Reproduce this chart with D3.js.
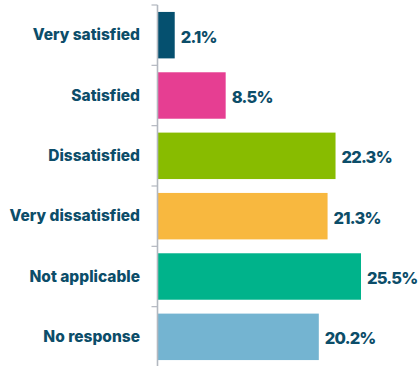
<!DOCTYPE html>
<html>
<head>
<meta charset="utf-8">
<script src="https://cdn.jsdelivr.net/npm/d3@7"></script>
<style>
  html, body { margin: 0; padding: 0; background: #ffffff; }
  svg { display: block; }
  text { font-family: "Inter", "Noto Sans", sans-serif; font-weight: 800; fill: #0c4d69; }
</style>
</head>
<body>
<svg id="chart" width="420" height="366"></svg>
<script>
// Survey responses, share of all respondents (%)
const categories = ["Very satisfied", "Satisfied", "Dissatisfied", "Very dissatisfied", "Not applicable", "No response"];
const shares = [2.1, 8.5, 22.3, 21.3, 25.5, 20.2];
const barColors = ["#05506f", "#e63e92", "#88bc00", "#f8b83f", "#00b38b", "#74b4d1"];

const svg = d3.select("#chart");
const axisX = 157.5;

const x = d3.scaleLinear().domain([0, 25.5]).range([158, 361]);
const y = d3.scaleBand().domain(categories).range([5, 367]).paddingInner(0).paddingOuter(0);
const inset = y.step() * 0.115;

// Bars
svg.append("g").selectAll("rect")
  .data(categories)
  .join("rect")
  .attr("x", x(0))
  .attr("y", d => y(d) + inset)
  .attr("width", (d, i) => x(shares[i]) - x(0))
  .attr("height", y.step() - 2 * inset)
  .attr("fill", (d, i) => barColors[i]);

// Category axis: vertical rule with ticks between rows
const axis = svg.append("g");
axis.append("line")
  .attr("x1", axisX).attr("x2", axisX)
  .attr("y1", y.range()[0]).attr("y2", y.range()[1])
  .attr("stroke", "#b3b8c0").attr("stroke-width", 1.6);
axis.selectAll("line.tick")
  .data(categories.map(d => y(d)).concat([y.range()[1]]))
  .join("line")
  .attr("class", "tick")
  .attr("x1", axisX - 6).attr("x2", axisX)
  .attr("y1", d => d).attr("y2", d => d)
  .attr("stroke", "#b3b8c0").attr("stroke-width", 1.2);

// Category labels
svg.append("g").selectAll("text")
  .data(categories)
  .join("text")
  .attr("x", 140)
  .attr("y", d => y(d) + y.step() / 2)
  .attr("dy", "0.33em")
  .attr("text-anchor", "end")
  .attr("font-size", 15.5)
  .text(d => d);

// Value labels
svg.append("g").selectAll("text")
  .data(categories)
  .join("text")
  .attr("x", (d, i) => x(shares[i]) + 6)
  .attr("y", d => y(d) + y.step() / 2 + 1.5)
  .attr("dy", "0.36em")
  .attr("font-size", 16.5)
  .attr("letter-spacing", -0.8)
  .text((d, i) => shares[i].toFixed(1) + "%");
</script>
</body>
</html>
